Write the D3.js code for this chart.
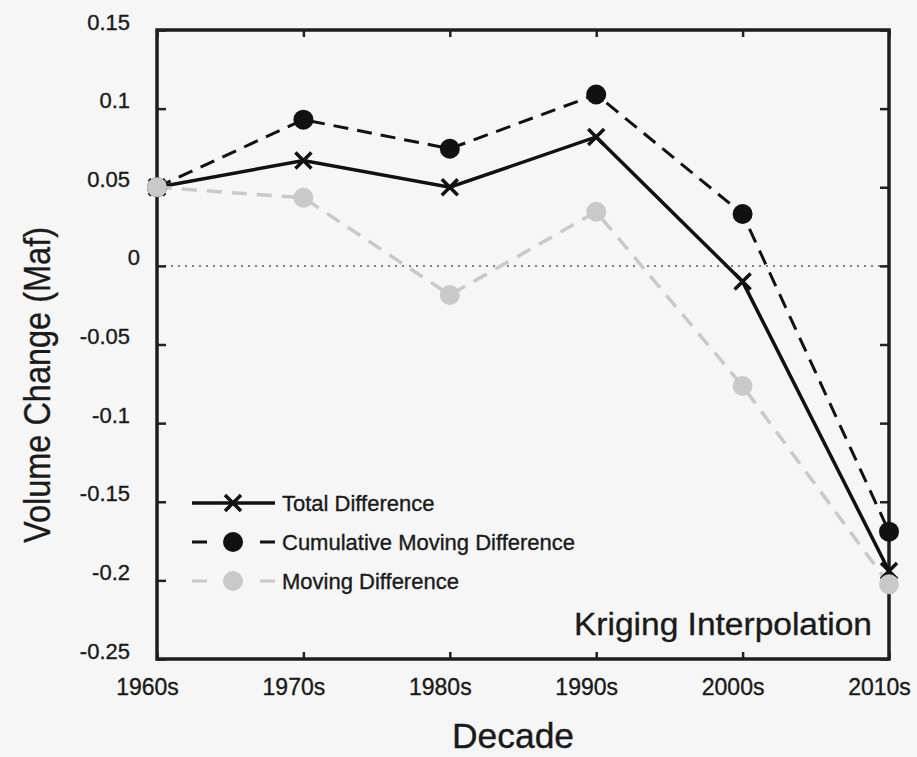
<!DOCTYPE html>
<html>
<head>
<meta charset="utf-8">
<script src="https://cdn.jsdelivr.net/npm/d3@7"></script>
<style>
  body { margin: 0; background: #f6f6f6; }
  svg { display: block; font-family: "Liberation Sans", Arial, sans-serif; }
  svg text { stroke: #1a1a1a; stroke-width: 0.35px; }
</style>
</head>
<body>
<svg id="chart"></svg>
<script>
var decades = ["1960s", "1970s", "1980s", "1990s", "2000s", "2010s"];
var totalDiff = [0.05, 0.067, 0.05, 0.082, -0.010, -0.194];
var cumMovingDiff = [0.05, 0.093, 0.0745, 0.109, 0.033, -0.169];
var movingDiff = [0.05, 0.0433, -0.0185, 0.0344, -0.0764, -0.2025];
var yTicks = [0.15, 0.1, 0.05, 0, -0.05, -0.1, -0.15, -0.2, -0.25];
var yTickLabels = ["0.15", "0.1", "0.05", "0", "-0.05", "-0.1", "-0.15", "-0.2", "-0.25"];
var legendNames = ["Total Difference", "Cumulative Moving Difference", "Moving Difference"];

var width = 917, height = 757;
var plotLeft = 157, plotRight = 889, plotTop = 30, plotBottom = 659;
var ink = "#111";
var grey = "#c9c9c9";

var svg = d3.select("#chart").attr("width", width).attr("height", height);
svg.append("rect").attr("width", width).attr("height", height).attr("fill", "#f6f6f6");

var x = d3.scalePoint().domain(decades).range([plotLeft, plotRight]);
var y = d3.scaleLinear().domain([-0.25, 0.15]).range([plotBottom, plotTop]);

// zero reference line
svg.append("line")
  .attr("x1", plotLeft).attr("x2", plotRight)
  .attr("y1", y(0)).attr("y2", y(0))
  .attr("stroke", "#808080").attr("stroke-width", 2)
  .attr("stroke-dasharray", "2,5");

// axes, ticks pointing inward on all four sides
var yAxis = svg.append("g")
  .attr("transform", `translate(${plotLeft},0)`)
  .call(d3.axisLeft(y).tickValues(yTicks).tickSize(-9).tickPadding(27)
    .tickFormat((d, i) => yTickLabels[i]));
yAxis.selectAll("text").attr("dy", "-1px")
  .attr("dx", (d) => d === 0 ? 10 : 0);

var xAxis = svg.append("g")
  .attr("transform", `translate(0,${plotBottom})`)
  .call(d3.axisBottom(x).tickSize(-7).tickPadding(20));
xAxis.selectAll("text").attr("dx", "-10px");

svg.append("g").attr("transform", `translate(${plotRight},0)`)
  .call(d3.axisRight(y).tickValues(yTicks).tickSize(-9).tickFormat(""));
svg.append("g").attr("transform", `translate(0,${plotTop})`)
  .call(d3.axisTop(x).tickSize(-7).tickFormat(""));

svg.selectAll(".domain").remove();
svg.selectAll(".tick line").attr("stroke", "#222").attr("stroke-width", 2.5);
svg.selectAll(".tick text").attr("fill", "#1a1a1a")
  .style("font-size", "22px").style("font-family", "'Liberation Sans', Arial, sans-serif");
xAxis.selectAll("text").style("font-size", "23px");

svg.append("rect")
  .attr("x", plotLeft).attr("y", plotTop)
  .attr("width", plotRight - plotLeft).attr("height", plotBottom - plotTop)
  .attr("fill", "none").attr("stroke", "#1e1e1e").attr("stroke-width", 3.5);

// series
var line = d3.line().x((d, i) => x(decades[i])).y((d) => y(d));

svg.append("path").datum(totalDiff)
  .attr("d", line).attr("fill", "none")
  .attr("stroke", ink).attr("stroke-width", 3.5);

svg.append("path").datum(cumMovingDiff)
  .attr("d", line).attr("fill", "none")
  .attr("stroke", ink).attr("stroke-width", 3).attr("stroke-dasharray", "15,9");

svg.append("path").datum(movingDiff)
  .attr("d", line).attr("fill", "none")
  .attr("stroke", grey).attr("stroke-width", 3.5).attr("stroke-dasharray", "15,10");

function cross(sel, cx, cy) {
  var s = 8;
  sel.append("path")
    .attr("d", `M${cx - s},${cy - s}L${cx + s},${cy + s}M${cx - s},${cy + s}L${cx + s},${cy - s}`)
    .attr("stroke", ink).attr("stroke-width", 3.5).attr("fill", "none");
}

var marks = svg.append("g");
totalDiff.forEach((d, i) => cross(marks, x(decades[i]), y(d)));

svg.append("g").selectAll("circle")
  .data(cumMovingDiff)
  .enter().append("circle")
    .attr("cx", (d, i) => x(decades[i]))
    .attr("cy", (d) => y(d))
    .attr("r", 10)
    .attr("fill", ink);

svg.append("g").selectAll("circle")
  .data(movingDiff)
  .enter().append("circle")
    .attr("cx", (d, i) => x(decades[i]))
    .attr("cy", (d) => y(d))
    .attr("r", 10)
    .attr("fill", grey);

// legend
var legend = svg.append("g");
var legY = [503, 542, 581];
var lx1 = 192, lx2 = 275, lmid = 233;

legend.append("line")
  .attr("x1", lx1).attr("x2", lx2).attr("y1", legY[0]).attr("y2", legY[0])
  .attr("stroke", ink).attr("stroke-width", 3.5);
cross(legend, lmid, legY[0]);

legend.append("line")
  .attr("x1", lx1).attr("x2", lx2).attr("y1", legY[1]).attr("y2", legY[1])
  .attr("stroke", ink).attr("stroke-width", 3).attr("stroke-dasharray", "15,53,15");
legend.append("circle").attr("cx", lmid).attr("cy", legY[1]).attr("r", 10).attr("fill", ink);

legend.append("line")
  .attr("x1", lx1).attr("x2", lx2).attr("y1", legY[2]).attr("y2", legY[2])
  .attr("stroke", grey).attr("stroke-width", 3).attr("stroke-dasharray", "15,53,15");
legend.append("circle").attr("cx", lmid).attr("cy", legY[2]).attr("r", 10).attr("fill", grey);

legend.selectAll("text")
  .data(legendNames)
  .enter().append("text")
    .attr("x", 282)
    .attr("y", (d, i) => legY[i] + 8)
    .attr("fill", "#1a1a1a")
    .style("font-size", "22px")
    .text((d) => d);

// annotation and axis titles
svg.append("text")
  .attr("x", 872).attr("y", 635)
  .attr("text-anchor", "end")
  .attr("textLength", 298).attr("lengthAdjust", "spacingAndGlyphs")
  .attr("fill", "#1a1a1a")
  .style("font-size", "31px")
  .text("Kriging Interpolation");

svg.append("text")
  .attr("transform", "translate(50,385) rotate(-90)")
  .attr("text-anchor", "middle")
  .attr("textLength", 316).attr("lengthAdjust", "spacingAndGlyphs")
  .attr("fill", "#1a1a1a")
  .style("font-size", "36px")
  .text("Volume Change (Maf)");

svg.append("text")
  .attr("x", 513).attr("y", 748)
  .attr("text-anchor", "middle")
  .attr("textLength", 122).attr("lengthAdjust", "spacingAndGlyphs")
  .attr("fill", "#1a1a1a")
  .style("font-size", "35px")
  .text("Decade");
</script>
</body>
</html>
